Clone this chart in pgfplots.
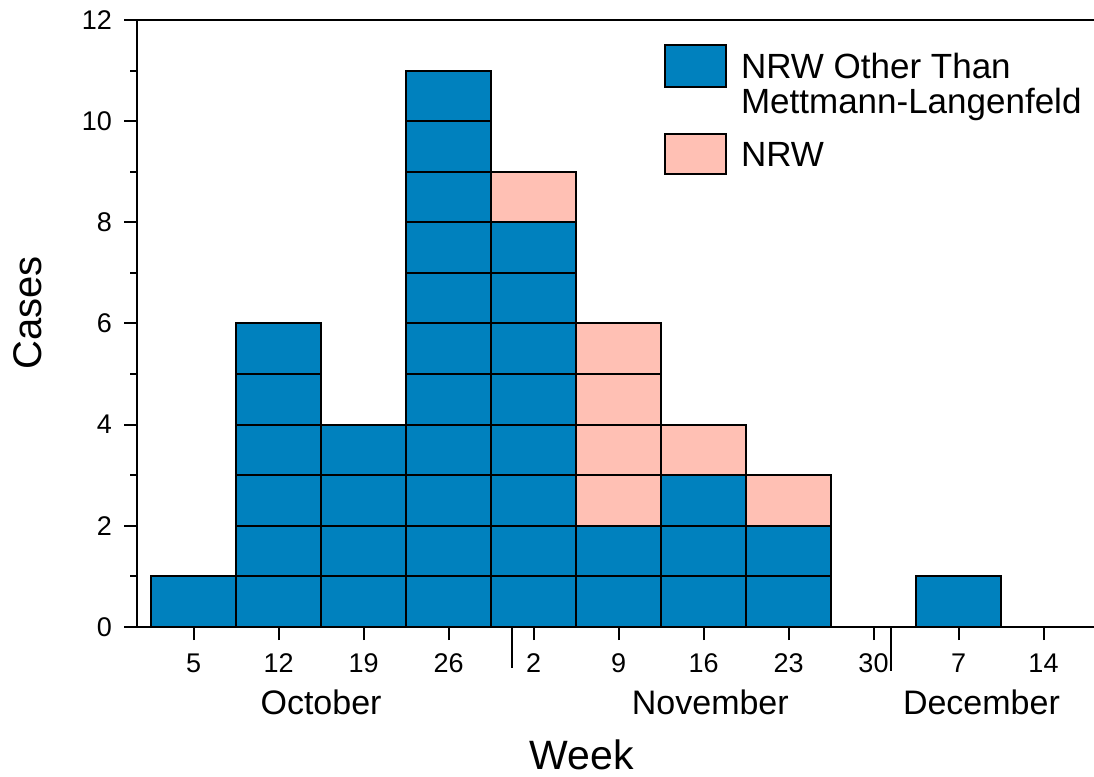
\documentclass[border=0pt]{standalone}
\usepackage{fontspec}
\setmainfont{Liberation Sans}
\usepackage{pgfplots}
\usepackage{pgfplotstable}
\pgfplotsset{compat=1.18}
\definecolor{nrwblue}{RGB}{0,129,190}
\definecolor{nrwpink}{RGB}{255,192,180}
% one column per stacked layer of cases (b = NRW other than Mettmann-Langenfeld, p = NRW)
% blue counts: 1,6,4,11,8,2,3,2,0,1,0 ; pink counts: 0,0,0,0,1,4,1,1,0,0,0
\pgfplotstableread{
x  b1 b2 b3 p3 b4 p4 b5 p5 b6 p6 b7 b8 b9 p9 b10 b11
0  1  0  0  0  0  0  0  0  0  0  0  0  0  0  0   0
1  1  1  1  0  1  0  1  0  1  0  0  0  0  0  0   0
2  1  1  1  0  1  0  0  0  0  0  0  0  0  0  0   0
3  1  1  1  0  1  0  1  0  1  0  1  1  1  0  1   1
4  1  1  1  0  1  0  1  0  1  0  1  1  0  1  0   0
5  1  1  0  1  0  1  0  1  0  1  0  0  0  0  0   0
6  1  1  1  0  0  1  0  0  0  0  0  0  0  0  0   0
7  1  1  0  1  0  0  0  0  0  0  0  0  0  0  0   0
8  0  0  0  0  0  0  0  0  0  0  0  0  0  0  0   0
9  1  0  0  0  0  0  0  0  0  0  0  0  0  0  0   0
10 0  0  0  0  0  0  0  0  0  0  0  0  0  0  0   0
}\casetable
\begin{document}
\begin{tikzpicture}
\useasboundingbox (-68.5pt,-75pt) rectangle (478.5pt,313.5pt);
\begin{axis}[
  at={(0,0)}, anchor=south west,
  scale only axis, width=478.5pt, height=303.5pt,
  xmin=-0.665, xmax=10.594, ymin=0, ymax=12,
  ybar stacked, bar width=1,
  axis x line*=bottom, axis y line*=left,
  axis line style={line width=1.2pt,-},
  xtick={0,...,10}, xticklabels={5,12,19,26,2,9,16,23,30,7,14},
  ytick={0,2,...,12}, minor ytick={1,3,...,11},
  tick align=outside, major tick length=6.5pt, minor tick length=3.5pt,
  tick style={line width=1pt,black},
  /pgf/number format/assume math mode=true,
  tick label style={font=\fontsize{13.5}{16}\selectfont},
  xticklabel style={yshift=-3.3pt},
  yticklabel style={xshift=-2.5pt},
  every axis plot/.append style={draw=black, line width=1pt},
  clip=false,
  legend style={at={(0.5507,0.9605)}, anchor=north west, draw=none, fill=none,
    inner sep=0pt, outer sep=0pt, row sep=8pt, column sep=7pt,
    font=\fontsize{17.5}{15}\selectfont, cells={align=left}, nodes={inner sep=0pt}},
  legend cell align=left,
]
\addplot[forget plot, fill=nrwblue] table[x=x,y=b1]{\casetable};
\addplot[forget plot, fill=nrwblue] table[x=x,y=b2]{\casetable};
\addplot[forget plot, fill=nrwblue] table[x=x,y=b3]{\casetable};
\addplot[forget plot, fill=nrwpink] table[x=x,y=p3]{\casetable};
\addplot[forget plot, fill=nrwblue] table[x=x,y=b4]{\casetable};
\addplot[forget plot, fill=nrwpink] table[x=x,y=p4]{\casetable};
\addplot[forget plot, fill=nrwblue] table[x=x,y=b5]{\casetable};
\addplot[forget plot, fill=nrwpink] table[x=x,y=p5]{\casetable};
\addplot[forget plot, fill=nrwblue] table[x=x,y=b6]{\casetable};
\addplot[forget plot, fill=nrwpink] table[x=x,y=p6]{\casetable};
\addplot[forget plot, fill=nrwblue] table[x=x,y=b7]{\casetable};
\addplot[forget plot, fill=nrwblue] table[x=x,y=b8]{\casetable};
\addplot[forget plot, fill=nrwblue] table[x=x,y=b9]{\casetable};
\addplot[forget plot, fill=nrwpink] table[x=x,y=p9]{\casetable};
\addplot[forget plot, fill=nrwblue] table[x=x,y=b10]{\casetable};
\addplot[forget plot, fill=nrwblue] table[x=x,y=b11]{\casetable};
\addlegendimage{legend image code/.code={\draw[fill=nrwblue,draw=black,line width=1pt] (0pt,-1pt) rectangle (30.5pt,20pt);}}
\addlegendentry{NRW Other Than\\[2.5pt]Mettmann-Langenfeld}
\addlegendimage{legend image code/.code={\draw[fill=nrwpink,draw=black,line width=1pt] (0pt,-9pt) rectangle (30.5pt,11pt);}}
\addlegendentry{NRW}
\draw[line width=1.2pt] (rel axis cs:0,1) -- (rel axis cs:1,1);
\draw[line width=1pt] (axis cs:3.75,0) -- ++(0pt,-20.5pt);
\draw[line width=1pt] (axis cs:8.2,0) -- ++(0pt,-22pt);
\node[font=\fontsize{17}{20}\selectfont] at ([yshift=-37.5pt]axis cs:1.5,0) {October};
\node[font=\fontsize{17}{20}\selectfont] at ([yshift=-37.5pt]axis cs:6.08,0) {November};
\node[font=\fontsize{17}{20}\selectfont] at ([yshift=-37.5pt]axis cs:9.27,0) {December};
\node[font=\fontsize{20.5}{24}\selectfont, inner sep=0pt] at ([yshift=-64pt]axis cs:4.57,0) {Week};
\node[font=\fontsize{20}{24}\selectfont, rotate=90] at ([xshift=-54.5pt]rel axis cs:0,0.517) {Cases};
\end{axis}
\end{tikzpicture}
\end{document}
